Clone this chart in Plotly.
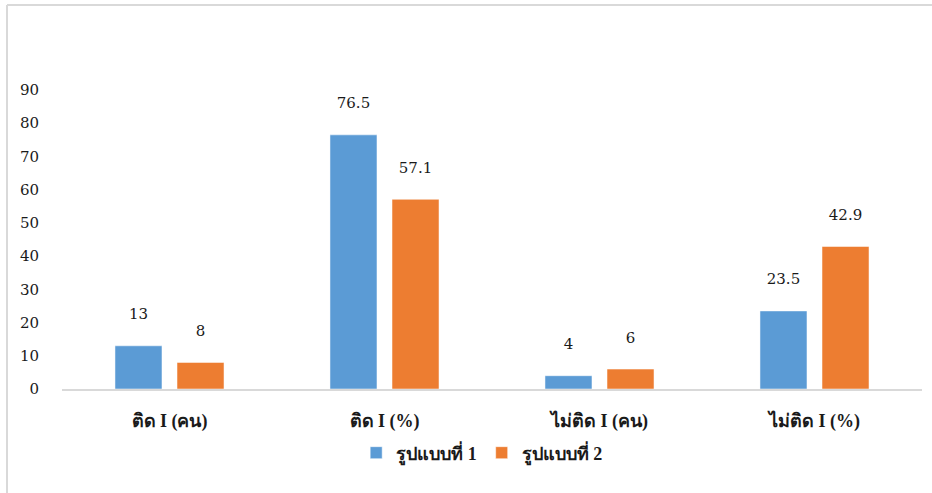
import plotly.graph_objects as go

categories = ["ติด I (คน)", "ติด I (%)", "ไม่ติด I (คน)", "ไม่ติด I (%)"]
series_names = ["รูปแบบที่ 1", "รูปแบบที่ 2"]
series1 = [13, 76.5, 4, 23.5]
series2 = [8, 57.1, 6, 42.9]
y_ticks = [0, 10, 20, 30, 40, 50, 60, 70, 80, 90]

colors = ["#5B9BD5", "#ED7D31"]
num_font = "DejaVu Serif"
thai_font = "Liberation Serif, DejaVu Serif, serif"

W, H = 932, 493
ml, mr, mt, mb = 62, 10, 90, 104
pw, ph = W - ml - mr, H - mt - mb

fig = go.Figure()
for name, vals, c in zip(series_names, [series1, series2], colors):
    fig.add_trace(go.Bar(
        x=categories, y=vals, name=name,
        marker=dict(color=c, line=dict(color="rgba(255,255,255,0.5)", width=1)),
        text=[f"{v:g}<br> " for v in vals],
        textposition="outside",
        textfont=dict(family=num_font, size=15, color="#1a1a1a"),
        cliponaxis=False,
    ))

# outer border (chart frame), light gray, partially cropped
x0 = (7 - ml) / pw
ytop = (H - mb - 5) / ph
fig.add_shape(type="line", xref="paper", yref="paper", x0=x0, x1=x0, y0=-0.5, y1=ytop,
              line=dict(color="#d9d9d9", width=2))
fig.add_shape(type="line", xref="paper", yref="paper", x0=x0, x1=1.2, y0=ytop, y1=ytop,
              line=dict(color="#d9d9d9", width=2))

fig.update_layout(
    width=W, height=H,
    margin=dict(l=ml, r=mr, t=mt, b=mb, autoexpand=False),
    paper_bgcolor="white", plot_bgcolor="white",
    barmode="group", bargap=0.423, bargroupgap=0.242,
    showlegend=True,
    legend=dict(orientation="h", x=0.488, xanchor="center", y=-0.214, yanchor="middle",
                font=dict(family=thai_font, size=18, color="#1a1a1a", weight="bold"),
                itemwidth=30, tracegroupgap=0),
    xaxis=dict(showline=True, linecolor="#d9d9d9", linewidth=2, ticks="",
               automargin=False,
               tickfont=dict(family=thai_font, size=18, color="#1a1a1a", weight="bold"),
               ticklabelstandoff=14, showgrid=False),
    yaxis=dict(range=[0, 90], tickvals=y_ticks, showgrid=False, zeroline=False,
               showline=False, ticks="", automargin=False,
               tickfont=dict(family=num_font, size=15, color="#1a1a1a"),
               ticklabelstandoff=22),
)

fig.write_html(
    "out.html",
    config={"displayModeBar": False},
    post_script="document.body.style.margin='0';document.body.style.padding='0';",
)
